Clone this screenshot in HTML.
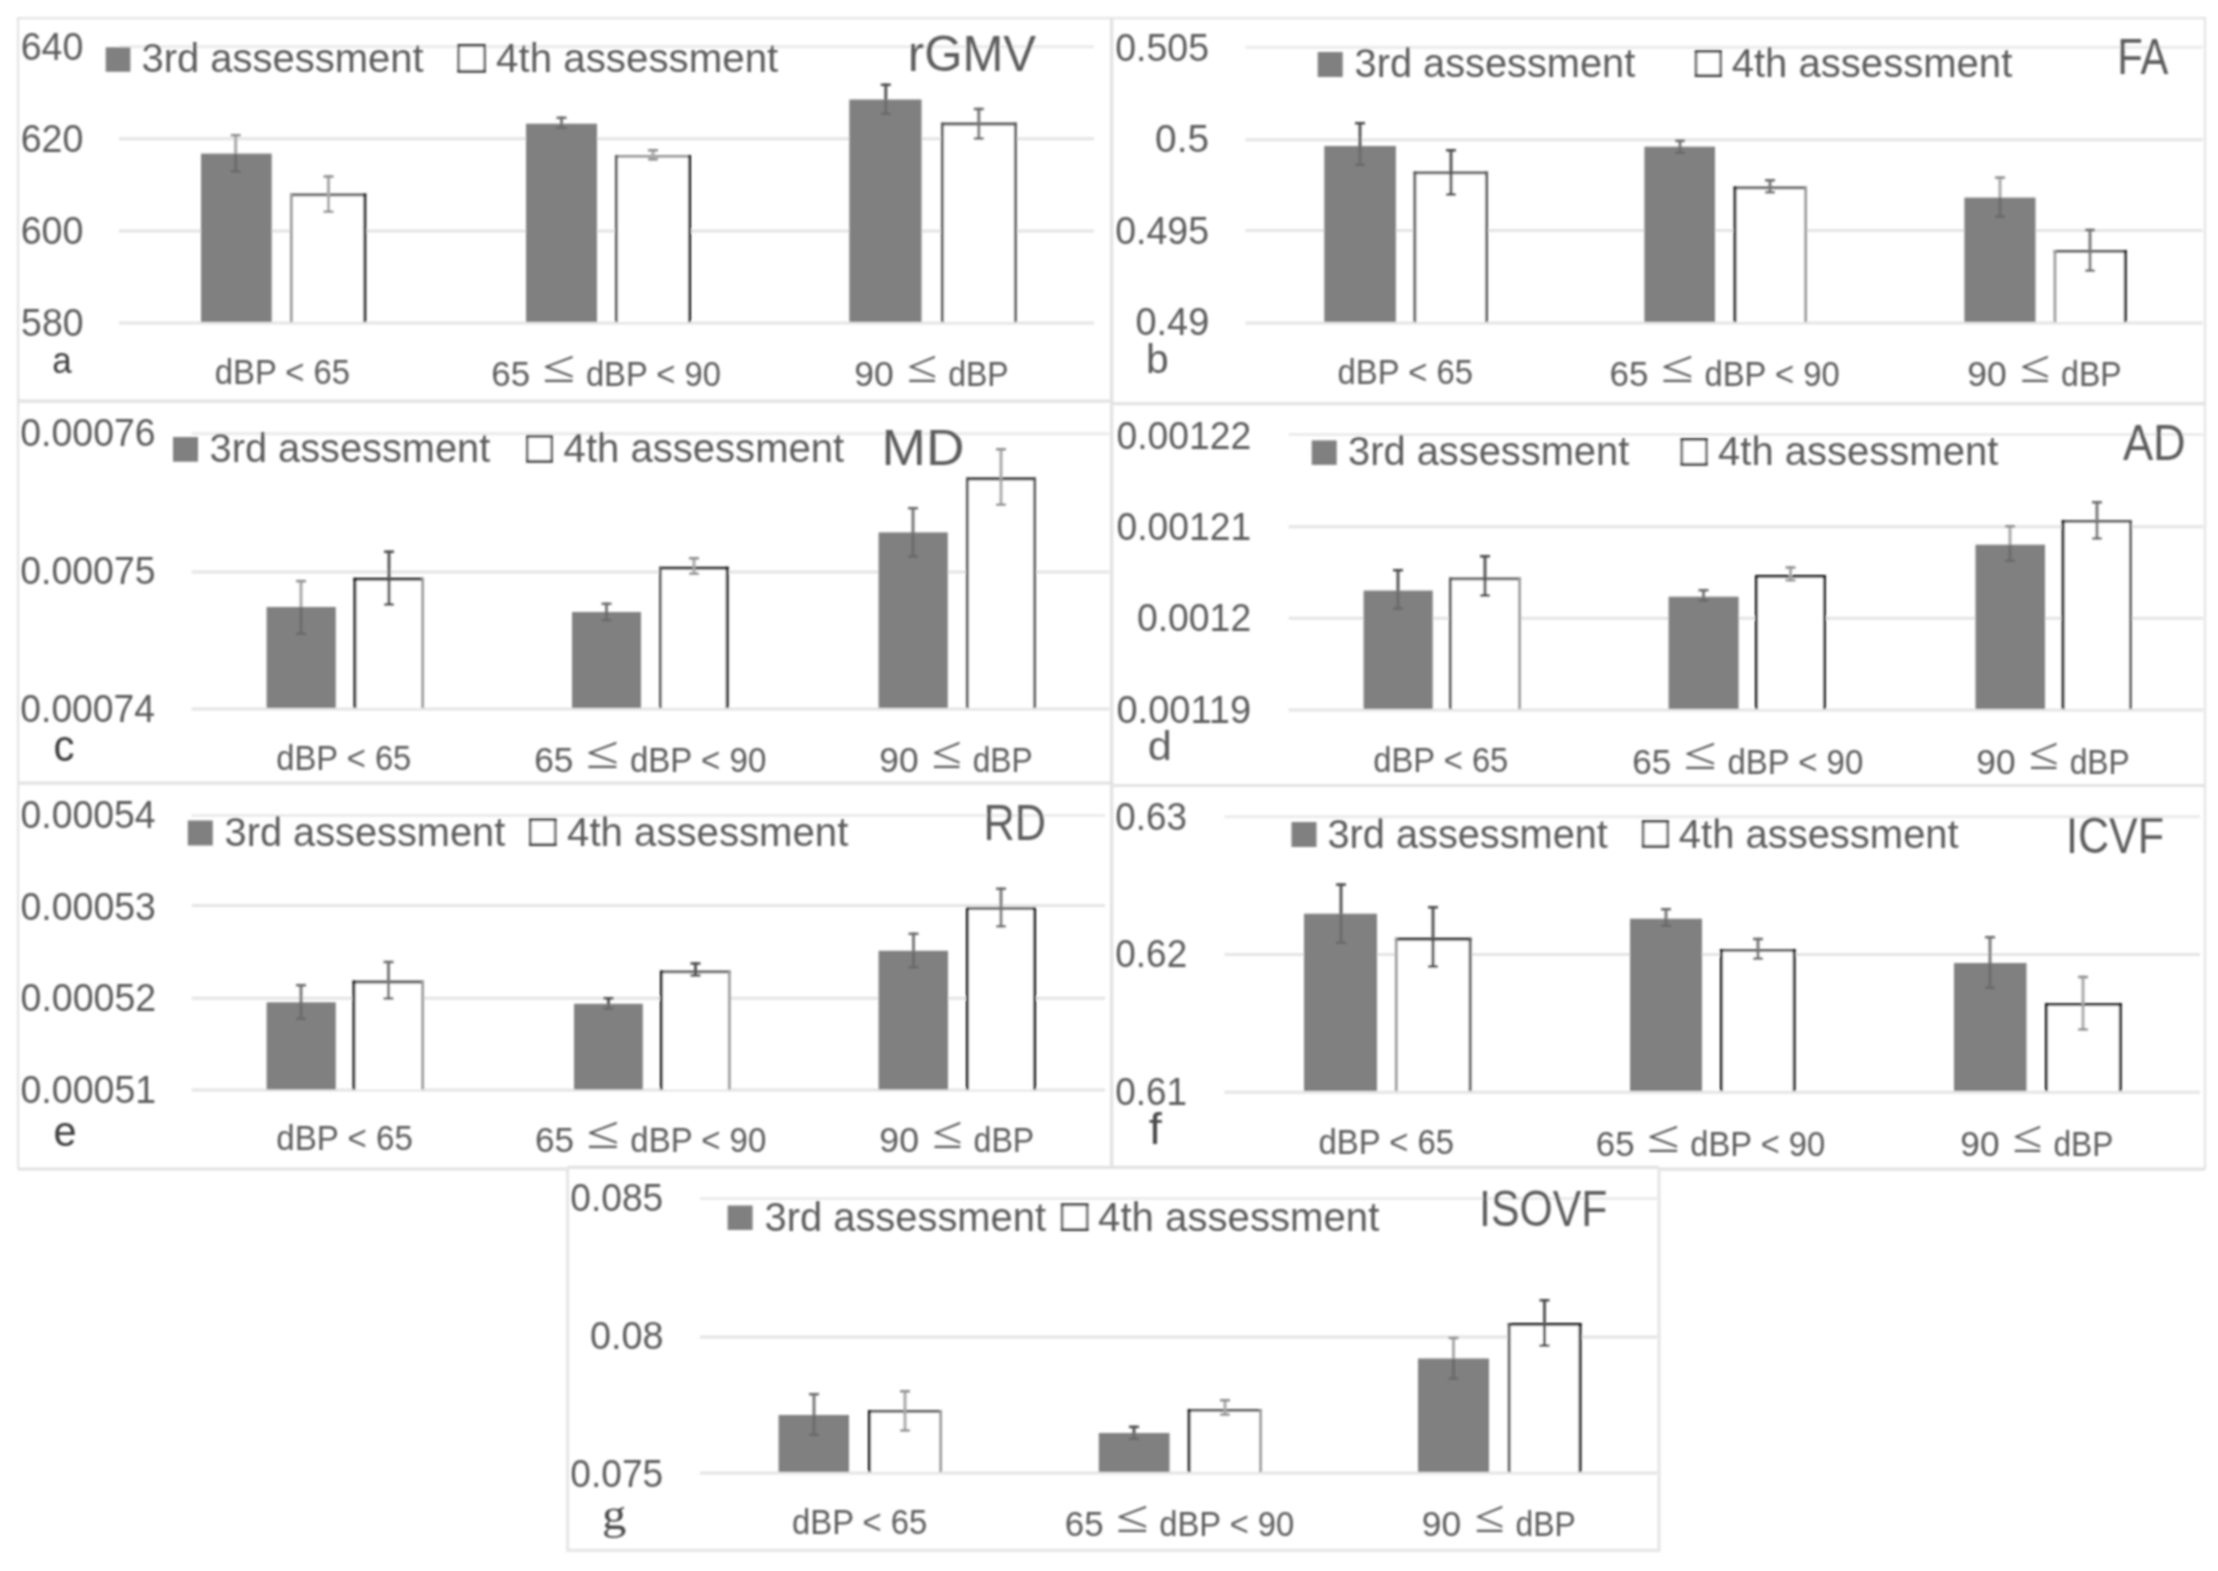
<!DOCTYPE html>
<html lang="en"><head><meta charset="utf-8"><title>Figure</title>
<style>html,body{margin:0;padding:0;background:#fff;overflow:hidden}svg{display:block}text{font-family:"Liberation Sans",sans-serif;white-space:pre}text.sf{font-family:"Liberation Serif",serif}</style>
</head><body>
<svg width="2218" height="1571" viewBox="0 0 2218 1571">
<rect width="2218" height="1571" fill="#fff"/>
<defs><filter id="bl" x="-1%" y="-1%" width="102%" height="102%"><feGaussianBlur stdDeviation="0.8"/></filter></defs><g filter="url(#bl)">
<g fill="none" stroke="#e2e2e2" stroke-width="3.2">
<path d="M18.1 1169V18.1H2205V1169" stroke-width="2.3" stroke="#e4e4e4"/>
<path d="M1111.7 18V1167"/>
<path d="M18 401.1H1111.6M18 783.2H1111.6M18 1169H567.6"/>
<path d="M1111.6 403.6H2205M1111.6 785.5H2205M1659 1169.2H2205"/>
<path d="M567.6 1167.3H1659"/>
<path d="M567.6 1167.3V1550.4H1659V1167.3" stroke="#e6e6e6"/>
</g>
<g>
<path d="M119 46.8H1094" stroke="#ebebeb" stroke-width="3" fill="none"/>
<path d="M119 138.7H1094M119 231H1094M119 323H1094" stroke="#e4e4e4" stroke-width="3" fill="none"/>
<text transform="translate(20.72 60) scale(0.9893 1)" font-size="38" fill="#5c5c5c">640</text>
<text transform="translate(20.72 152) scale(0.9893 1)" font-size="38" fill="#5c5c5c">620</text>
<text transform="translate(20.72 244.4) scale(0.9893 1)" font-size="38" fill="#5c5c5c">600</text>
<text transform="translate(21.11 336.4) scale(0.9831 1)" font-size="38" fill="#5c5c5c">580</text>
<rect x="201" y="153.6" width="70.7" height="168.4" fill="#808080"/>
<rect x="290" y="193.5" width="76.3" height="128.5" fill="#fff"/>
<path d="M290 194.9H366.3" stroke="#585858" stroke-width="2.8" fill="none"/>
<path d="M291.4 322V193.5" stroke="#9a9a9a" stroke-width="2.8" fill="none"/>
<path d="M364.9 322V193.5" stroke="#0c0c0c" stroke-width="2.8" fill="none"/>
<rect x="526" y="123.7" width="71" height="198.3" fill="#808080"/>
<rect x="615" y="155" width="76" height="167" fill="#fff"/>
<path d="M615 156.4H691" stroke="#9a9a9a" stroke-width="2.8" fill="none"/>
<path d="M616.4 322V155" stroke="#585858" stroke-width="2.8" fill="none"/>
<path d="M689.6 322V155" stroke="#0c0c0c" stroke-width="2.8" fill="none"/>
<rect x="849.3" y="99.5" width="72.2" height="222.5" fill="#808080"/>
<rect x="941" y="122.6" width="75.8" height="199.4" fill="#fff"/>
<path d="M941 124H1016.8" stroke="#585858" stroke-width="2.8" fill="none"/>
<path d="M942.4 322V122.6" stroke="#585858" stroke-width="2.8" fill="none"/>
<path d="M1015.4 322V122.6" stroke="#585858" stroke-width="2.8" fill="none"/>
<path d="M235.7 134V153.6" stroke="#a8a8a8" stroke-width="3" fill="none"/>
<path d="M235.7 153.6V172.5" stroke="#6c6c6c" stroke-width="3" fill="none"/>
<path d="M230.7 135.2H240.7" stroke="#8e8e8e" stroke-width="2.5" fill="none"/>
<path d="M230.7 171.3H240.7" stroke="#6a6a6a" stroke-width="2.5" fill="none"/>
<path d="M328.5 175.3V213" stroke="#a8a8a8" stroke-width="3" fill="none"/>
<path d="M323.5 176.5H333.5M323.5 211.8H333.5" stroke="#8e8e8e" stroke-width="2.5" fill="none"/>
<path d="M561.5 116.6V123.7" stroke="#7a7a7a" stroke-width="3" fill="none"/>
<path d="M561.5 123.7V129" stroke="#6c6c6c" stroke-width="3" fill="none"/>
<path d="M556.5 117.8H566.5" stroke="#6a6a6a" stroke-width="2.5" fill="none"/>
<path d="M556.5 127.8H566.5" stroke="#6a6a6a" stroke-width="2.5" fill="none"/>
<path d="M653 149V160.6" stroke="#a8a8a8" stroke-width="3" fill="none"/>
<path d="M648 150.2H658M648 159.4H658" stroke="#8e8e8e" stroke-width="2.5" fill="none"/>
<path d="M885.8 83.6V99.5" stroke="#565656" stroke-width="3" fill="none"/>
<path d="M885.8 99.5V115" stroke="#6c6c6c" stroke-width="3" fill="none"/>
<path d="M880.8 84.8H890.8" stroke="#4a4a4a" stroke-width="2.5" fill="none"/>
<path d="M880.8 113.8H890.8" stroke="#6a6a6a" stroke-width="2.5" fill="none"/>
<path d="M978.8 107.7V139.8" stroke="#7a7a7a" stroke-width="3" fill="none"/>
<path d="M973.8 108.9H983.8M973.8 138.6H983.8" stroke="#6a6a6a" stroke-width="2.5" fill="none"/>
<rect x="105.7" y="47.3" width="24.7" height="24.5" fill="#808080"/>
<text transform="translate(141.5 71.8) scale(0.9632 1)" font-size="41.5" fill="#5c5c5c">3rd assessment</text>
<rect x="458.7" y="45.3" width="26" height="25.9" fill="#fff" stroke="#686868" stroke-width="2.6"/>
<path d="M457.4 45.3H486M457.4 71.2H486" stroke="#3c3c3c" stroke-width="2.6" fill="none"/>
<text transform="translate(496.09 71.8) scale(0.9711 1)" font-size="41.5" fill="#5c5c5c">4th assessment</text>
<text transform="translate(907.8 71) scale(0.9833 1)" font-size="50" fill="#5c5c5c">rGMV</text>
<text transform="translate(214.81 384) scale(0.9378 1)" font-size="35" fill="#5c5c5c">dBP &lt; 65</text>
<text transform="translate(491.25 386) scale(0.9972 1)" font-size="35" fill="#5c5c5c">65</text>
<text class="sf" transform="translate(542.48 381.8) scale(1.4839 1.1441)" font-size="40" fill="#555">≤</text>
<text transform="translate(585.91 386) scale(0.9351 1)" font-size="35" fill="#5c5c5c">dBP &lt; 90</text>
<text transform="translate(854.31 386) scale(1.0146 1)" font-size="35" fill="#5c5c5c">90</text>
<text class="sf" transform="translate(907.06 381.8) scale(1.3763 1.1441)" font-size="40" fill="#555">≤</text>
<text transform="translate(948.24 386) scale(0.9136 1)" font-size="35" fill="#5c5c5c">dBP</text>
<text transform="translate(52.21 373.22) scale(0.8738 0.9406)" font-size="40" fill="#3c3c3c">a</text>
</g>
<g>
<path d="M1245.5 47.3H2202.5" stroke="#ebebeb" stroke-width="3" fill="none"/>
<path d="M1245.5 139.7H2202.5M1245.5 230.5H2202.5M1245.5 322.9H2202.5" stroke="#e4e4e4" stroke-width="3" fill="none"/>
<text transform="translate(1115.2 60.7) scale(0.9864 1)" font-size="38" fill="#5c5c5c">0.505</text>
<text transform="translate(1155.05 152.1) scale(1.0225 1)" font-size="38" fill="#5c5c5c">0.5</text>
<text transform="translate(1115.2 243.7) scale(0.9864 1)" font-size="38" fill="#5c5c5c">0.495</text>
<text transform="translate(1135.48 335.4) scale(0.9975 1)" font-size="38" fill="#5c5c5c">0.49</text>
<rect x="1324.3" y="146" width="71.6" height="176" fill="#808080"/>
<rect x="1413.5" y="171.4" width="74.5" height="150.6" fill="#fff"/>
<path d="M1413.5 172.8H1488" stroke="#585858" stroke-width="2.8" fill="none"/>
<path d="M1414.9 322V171.4" stroke="#585858" stroke-width="2.8" fill="none"/>
<path d="M1486.6 322V171.4" stroke="#585858" stroke-width="2.8" fill="none"/>
<rect x="1644.4" y="146.7" width="70.6" height="175.3" fill="#808080"/>
<rect x="1733.6" y="186.5" width="73.4" height="135.5" fill="#fff"/>
<path d="M1733.6 187.9H1807" stroke="#585858" stroke-width="2.8" fill="none"/>
<path d="M1735 322V186.5" stroke="#0c0c0c" stroke-width="2.8" fill="none"/>
<path d="M1805.6 322V186.5" stroke="#9a9a9a" stroke-width="2.8" fill="none"/>
<rect x="1964.4" y="197.6" width="71.1" height="124.4" fill="#808080"/>
<rect x="2053.6" y="250" width="73.1" height="72" fill="#fff"/>
<path d="M2053.6 251.4H2126.7" stroke="#585858" stroke-width="2.8" fill="none"/>
<path d="M2055 322V250" stroke="#9a9a9a" stroke-width="2.8" fill="none"/>
<path d="M2125.3 322V250" stroke="#0c0c0c" stroke-width="2.8" fill="none"/>
<path d="M1360 122V146" stroke="#565656" stroke-width="3" fill="none"/>
<path d="M1360 146V166" stroke="#6c6c6c" stroke-width="3" fill="none"/>
<path d="M1355 123.2H1365" stroke="#4a4a4a" stroke-width="2.5" fill="none"/>
<path d="M1355 164.8H1365" stroke="#6a6a6a" stroke-width="2.5" fill="none"/>
<path d="M1451 149V195.6" stroke="#565656" stroke-width="3" fill="none"/>
<path d="M1446 150.2H1456M1446 194.4H1456" stroke="#4a4a4a" stroke-width="2.5" fill="none"/>
<path d="M1680 139.6V146.7" stroke="#7a7a7a" stroke-width="3" fill="none"/>
<path d="M1680 146.7V154" stroke="#6c6c6c" stroke-width="3" fill="none"/>
<path d="M1675 140.8H1685" stroke="#6a6a6a" stroke-width="2.5" fill="none"/>
<path d="M1675 152.8H1685" stroke="#6a6a6a" stroke-width="2.5" fill="none"/>
<path d="M1770 179V193.5" stroke="#7a7a7a" stroke-width="3" fill="none"/>
<path d="M1765 180.2H1775M1765 192.3H1775" stroke="#6a6a6a" stroke-width="2.5" fill="none"/>
<path d="M2000 176.4V197.6" stroke="#a8a8a8" stroke-width="3" fill="none"/>
<path d="M2000 197.6V217.7" stroke="#6c6c6c" stroke-width="3" fill="none"/>
<path d="M1995 177.6H2005" stroke="#8e8e8e" stroke-width="2.5" fill="none"/>
<path d="M1995 216.5H2005" stroke="#6a6a6a" stroke-width="2.5" fill="none"/>
<path d="M2090 228.8V272" stroke="#7a7a7a" stroke-width="3" fill="none"/>
<path d="M2085 230H2095M2085 270.8H2095" stroke="#6a6a6a" stroke-width="2.5" fill="none"/>
<rect x="1317.7" y="52" width="25" height="25" fill="#808080"/>
<text transform="translate(1354.51 77) scale(0.9587 1)" font-size="41.5" fill="#5c5c5c">3rd assessment</text>
<rect x="1696.1" y="51.3" width="24.4" height="24.4" fill="#fff" stroke="#686868" stroke-width="2.6"/>
<path d="M1694.8 51.3H1721.8M1694.8 75.7H1721.8" stroke="#3c3c3c" stroke-width="2.6" fill="none"/>
<text transform="translate(1731.7 77) scale(0.9656 1)" font-size="41.5" fill="#5c5c5c">4th assessment</text>
<text transform="translate(2117.25 74.4) scale(0.8369 1)" font-size="50" fill="#5c5c5c">FA</text>
<text transform="translate(1337.61 384.2) scale(0.9378 1)" font-size="35" fill="#5c5c5c">dBP &lt; 65</text>
<text transform="translate(1609.55 386.2) scale(0.9994 1)" font-size="35" fill="#5c5c5c">65</text>
<text class="sf" transform="translate(1660.89 382) scale(1.4871 1.1441)" font-size="40" fill="#555">≤</text>
<text transform="translate(1704.41 386.2) scale(0.9371 1)" font-size="35" fill="#5c5c5c">dBP &lt; 90</text>
<text transform="translate(1967.32 386.2) scale(1.0133 1)" font-size="35" fill="#5c5c5c">90</text>
<text class="sf" transform="translate(2019.99 382) scale(1.3745 1.1441)" font-size="40" fill="#555">≤</text>
<text transform="translate(2061.12 386.2) scale(0.9124 1)" font-size="35" fill="#5c5c5c">dBP</text>
<text transform="translate(1146.04 372.89) scale(1.0222 1.0306)" font-size="40" fill="#5a5a5a">b</text>
</g>
<g>
<path d="M191.7 433.8H1109.5" stroke="#ebebeb" stroke-width="3" fill="none"/>
<path d="M191.7 572H1109.5M191.7 709H1109.5" stroke="#e4e4e4" stroke-width="3" fill="none"/>
<text transform="translate(20.3 446.3) scale(0.9855 1)" font-size="38" fill="#5c5c5c">0.00076</text>
<text transform="translate(20.3 584.1) scale(0.9848 1)" font-size="38" fill="#5c5c5c">0.00075</text>
<text transform="translate(20.31 722) scale(0.9814 1)" font-size="38" fill="#5c5c5c">0.00074</text>
<rect x="266.6" y="607" width="69.2" height="101" fill="#808080"/>
<rect x="353.5" y="577.8" width="70.5" height="130.2" fill="#fff"/>
<path d="M353.5 579.2H424" stroke="#0c0c0c" stroke-width="2.8" fill="none"/>
<path d="M354.9 708V577.8" stroke="#0c0c0c" stroke-width="2.8" fill="none"/>
<path d="M422.6 708V577.8" stroke="#9a9a9a" stroke-width="2.8" fill="none"/>
<rect x="572" y="612" width="69" height="96" fill="#808080"/>
<rect x="659" y="566.7" width="69.6" height="141.3" fill="#fff"/>
<path d="M659 568.1H728.6" stroke="#0c0c0c" stroke-width="2.8" fill="none"/>
<path d="M660.4 708V566.7" stroke="#585858" stroke-width="2.8" fill="none"/>
<path d="M727.2 708V566.7" stroke="#0c0c0c" stroke-width="2.8" fill="none"/>
<rect x="878.6" y="532.4" width="69.2" height="175.6" fill="#808080"/>
<rect x="966" y="477.4" width="70" height="230.6" fill="#fff"/>
<path d="M966 478.8H1036" stroke="#0c0c0c" stroke-width="2.8" fill="none"/>
<path d="M967.4 708V477.4" stroke="#585858" stroke-width="2.8" fill="none"/>
<path d="M1034.6 708V477.4" stroke="#585858" stroke-width="2.8" fill="none"/>
<path d="M301 579.9V607" stroke="#a8a8a8" stroke-width="3" fill="none"/>
<path d="M301 607V634.9" stroke="#6c6c6c" stroke-width="3" fill="none"/>
<path d="M296 581.1H306" stroke="#8e8e8e" stroke-width="2.5" fill="none"/>
<path d="M296 633.7H306" stroke="#6a6a6a" stroke-width="2.5" fill="none"/>
<path d="M389 550.6V605.6" stroke="#565656" stroke-width="3" fill="none"/>
<path d="M384 551.8H394M384 604.4H394" stroke="#4a4a4a" stroke-width="2.5" fill="none"/>
<path d="M606.5 602.6V612" stroke="#7a7a7a" stroke-width="3" fill="none"/>
<path d="M606.5 612V621.3" stroke="#6c6c6c" stroke-width="3" fill="none"/>
<path d="M601.5 603.8H611.5" stroke="#6a6a6a" stroke-width="2.5" fill="none"/>
<path d="M601.5 620.1H611.5" stroke="#6a6a6a" stroke-width="2.5" fill="none"/>
<path d="M694 557V575" stroke="#a8a8a8" stroke-width="3" fill="none"/>
<path d="M689 558.2H699M689 573.8H699" stroke="#8e8e8e" stroke-width="2.5" fill="none"/>
<path d="M913 507V532.4" stroke="#7a7a7a" stroke-width="3" fill="none"/>
<path d="M913 532.4V557.6" stroke="#6c6c6c" stroke-width="3" fill="none"/>
<path d="M908 508.2H918" stroke="#6a6a6a" stroke-width="2.5" fill="none"/>
<path d="M908 556.4H918" stroke="#6a6a6a" stroke-width="2.5" fill="none"/>
<path d="M1001 448V506" stroke="#a8a8a8" stroke-width="3" fill="none"/>
<path d="M996 449.2H1006M996 504.8H1006" stroke="#8e8e8e" stroke-width="2.5" fill="none"/>
<rect x="173" y="437" width="25" height="24.7" fill="#808080"/>
<text transform="translate(209.51 462) scale(0.9587 1)" font-size="41.5" fill="#5c5c5c">3rd assessment</text>
<rect x="527.3" y="436.3" width="24.4" height="24.9" fill="#fff" stroke="#686868" stroke-width="2.6"/>
<path d="M526 436.3H553M526 461.2H553" stroke="#3c3c3c" stroke-width="2.6" fill="none"/>
<text transform="translate(563.6 462) scale(0.9659 1)" font-size="41.5" fill="#5c5c5c">4th assessment</text>
<text transform="translate(881.6 464.7) scale(1.0667 1)" font-size="50" fill="#5c5c5c">MD</text>
<text transform="translate(276.31 769.7) scale(0.9356 1)" font-size="35" fill="#5c5c5c">dBP &lt; 65</text>
<text transform="translate(534.24 771.7) scale(1.0078 1)" font-size="35" fill="#5c5c5c">65</text>
<text class="sf" transform="translate(586 767.5) scale(1.4996 1.1441)" font-size="40" fill="#555">≤</text>
<text transform="translate(629.89 771.7) scale(0.9450 1)" font-size="35" fill="#5c5c5c">dBP &lt; 90</text>
<text transform="translate(879.32 771.7) scale(1.0079 1)" font-size="35" fill="#5c5c5c">90</text>
<text class="sf" transform="translate(931.72 767.5) scale(1.3672 1.1441)" font-size="40" fill="#555">≤</text>
<text transform="translate(972.63 771.7) scale(0.9076 1)" font-size="35" fill="#5c5c5c">dBP</text>
<text transform="translate(53.41 760.67) scale(1.0523 1.0868)" font-size="40" fill="#3c3c3c">c</text>
</g>
<g>
<path d="M1288.6 434.6H2203" stroke="#ebebeb" stroke-width="3" fill="none"/>
<path d="M1288.6 526.8H2203M1288.6 618.2H2203M1288.6 710H2203" stroke="#e4e4e4" stroke-width="3" fill="none"/>
<text transform="translate(1116.51 448.5) scale(0.9809 1)" font-size="38" fill="#5c5c5c">0.00122</text>
<text transform="translate(1116.51 539.8) scale(0.9802 1)" font-size="38" fill="#5c5c5c">0.00121</text>
<text transform="translate(1136.91 631.2) scale(0.9835 1)" font-size="38" fill="#5c5c5c">0.0012</text>
<text transform="translate(1116.48 723) scale(1.0001 1)" font-size="38" fill="#5c5c5c">0.00119</text>
<rect x="1363.6" y="590.6" width="69.1" height="118.4" fill="#808080"/>
<rect x="1449" y="577.5" width="71.9" height="131.5" fill="#fff"/>
<path d="M1449 578.9H1520.9" stroke="#585858" stroke-width="2.8" fill="none"/>
<path d="M1450.4 709V577.5" stroke="#585858" stroke-width="2.8" fill="none"/>
<path d="M1519.5 709V577.5" stroke="#9a9a9a" stroke-width="2.8" fill="none"/>
<rect x="1668.6" y="596.7" width="70" height="112.3" fill="#808080"/>
<rect x="1755" y="575" width="70.8" height="134" fill="#fff"/>
<path d="M1755 576.4H1825.8" stroke="#0c0c0c" stroke-width="2.8" fill="none"/>
<path d="M1756.4 709V575" stroke="#0c0c0c" stroke-width="2.8" fill="none"/>
<path d="M1824.4 709V575" stroke="#0c0c0c" stroke-width="2.8" fill="none"/>
<rect x="1975.5" y="544.7" width="69.5" height="164.3" fill="#808080"/>
<rect x="2061.7" y="520" width="70.1" height="189" fill="#fff"/>
<path d="M2061.7 521.4H2131.8" stroke="#585858" stroke-width="2.8" fill="none"/>
<path d="M2063.1 709V520" stroke="#0c0c0c" stroke-width="2.8" fill="none"/>
<path d="M2130.4 709V520" stroke="#585858" stroke-width="2.8" fill="none"/>
<path d="M1398 569V590.6" stroke="#565656" stroke-width="3" fill="none"/>
<path d="M1398 590.6V609.8" stroke="#6c6c6c" stroke-width="3" fill="none"/>
<path d="M1393 570.2H1403" stroke="#4a4a4a" stroke-width="2.5" fill="none"/>
<path d="M1393 608.6H1403" stroke="#6a6a6a" stroke-width="2.5" fill="none"/>
<path d="M1485 555V596.7" stroke="#565656" stroke-width="3" fill="none"/>
<path d="M1480 556.2H1490M1480 595.5H1490" stroke="#4a4a4a" stroke-width="2.5" fill="none"/>
<path d="M1703.5 589V596.7" stroke="#7a7a7a" stroke-width="3" fill="none"/>
<path d="M1703.5 596.7V601.7" stroke="#6c6c6c" stroke-width="3" fill="none"/>
<path d="M1698.5 590.2H1708.5" stroke="#6a6a6a" stroke-width="2.5" fill="none"/>
<path d="M1698.5 600.5H1708.5" stroke="#6a6a6a" stroke-width="2.5" fill="none"/>
<path d="M1790.5 566.4V581.5" stroke="#a8a8a8" stroke-width="3" fill="none"/>
<path d="M1785.5 567.6H1795.5M1785.5 580.3H1795.5" stroke="#8e8e8e" stroke-width="2.5" fill="none"/>
<path d="M2010 525V544.7" stroke="#a8a8a8" stroke-width="3" fill="none"/>
<path d="M2010 544.7V562" stroke="#6c6c6c" stroke-width="3" fill="none"/>
<path d="M2005 526.2H2015" stroke="#8e8e8e" stroke-width="2.5" fill="none"/>
<path d="M2005 560.8H2015" stroke="#6a6a6a" stroke-width="2.5" fill="none"/>
<path d="M2097 501V539.7" stroke="#7a7a7a" stroke-width="3" fill="none"/>
<path d="M2092 502.2H2102M2092 538.5H2102" stroke="#6a6a6a" stroke-width="2.5" fill="none"/>
<rect x="1311.7" y="440.4" width="25" height="24.5" fill="#808080"/>
<text transform="translate(1348.01 465) scale(0.9604 1)" font-size="41.5" fill="#5c5c5c">3rd assessment</text>
<rect x="1681.9" y="439.3" width="24.4" height="24.9" fill="#fff" stroke="#686868" stroke-width="2.6"/>
<path d="M1680.6 439.3H1707.6M1680.6 464.2H1707.6" stroke="#3c3c3c" stroke-width="2.6" fill="none"/>
<text transform="translate(1718.1 465) scale(0.9642 1)" font-size="41.5" fill="#5c5c5c">4th assessment</text>
<text transform="translate(2122.89 459.6) scale(0.9060 1)" font-size="50" fill="#5c5c5c">AD</text>
<text transform="translate(1373.31 771.6) scale(0.9356 1)" font-size="35" fill="#5c5c5c">dBP &lt; 65</text>
<text transform="translate(1632.24 773.6) scale(1.0034 1)" font-size="35" fill="#5c5c5c">65</text>
<text class="sf" transform="translate(1683.78 769.4) scale(1.4930 1.1441)" font-size="40" fill="#555">≤</text>
<text transform="translate(1727.48 773.6) scale(0.9408 1)" font-size="35" fill="#5c5c5c">dBP &lt; 90</text>
<text transform="translate(1976.32 773.6) scale(1.0079 1)" font-size="35" fill="#5c5c5c">90</text>
<text class="sf" transform="translate(2028.72 769.4) scale(1.3672 1.1441)" font-size="40" fill="#555">≤</text>
<text transform="translate(2069.63 773.6) scale(0.9076 1)" font-size="35" fill="#5c5c5c">dBP</text>
<text transform="translate(1147.66 760.19) scale(1.0833 1.0306)" font-size="40" fill="#5e5e5e">d</text>
</g>
<g>
<path d="M191.7 815.5H1105" stroke="#ebebeb" stroke-width="3" fill="none"/>
<path d="M191.7 905.6H1105M191.7 998.2H1105M191.7 1090H1105" stroke="#e4e4e4" stroke-width="3" fill="none"/>
<text transform="translate(20.51 828.1) scale(0.9821 1)" font-size="38" fill="#5c5c5c">0.00054</text>
<text transform="translate(20.5 919.7) scale(0.9863 1)" font-size="38" fill="#5c5c5c">0.00053</text>
<text transform="translate(20.5 1011.4) scale(0.9884 1)" font-size="38" fill="#5c5c5c">0.00052</text>
<text transform="translate(20.5 1102.7) scale(0.9877 1)" font-size="38" fill="#5c5c5c">0.00051</text>
<rect x="266.6" y="1002.3" width="69.2" height="87.2" fill="#808080"/>
<rect x="352.5" y="980.6" width="71.5" height="108.9" fill="#fff"/>
<path d="M352.5 982H424" stroke="#585858" stroke-width="2.8" fill="none"/>
<path d="M353.9 1089.5V980.6" stroke="#0c0c0c" stroke-width="2.8" fill="none"/>
<path d="M422.6 1089.5V980.6" stroke="#9a9a9a" stroke-width="2.8" fill="none"/>
<rect x="574" y="1003.8" width="68.8" height="85.7" fill="#808080"/>
<rect x="660" y="970.5" width="70.7" height="119" fill="#fff"/>
<path d="M660 971.9H730.7" stroke="#585858" stroke-width="2.8" fill="none"/>
<path d="M661.4 1089.5V970.5" stroke="#0c0c0c" stroke-width="2.8" fill="none"/>
<path d="M729.3 1089.5V970.5" stroke="#9a9a9a" stroke-width="2.8" fill="none"/>
<rect x="878.6" y="950.8" width="69.4" height="138.7" fill="#808080"/>
<rect x="966" y="907.3" width="70" height="182.2" fill="#fff"/>
<path d="M966 908.7H1036" stroke="#585858" stroke-width="2.8" fill="none"/>
<path d="M967.4 1089.5V907.3" stroke="#0c0c0c" stroke-width="2.8" fill="none"/>
<path d="M1034.6 1089.5V907.3" stroke="#0c0c0c" stroke-width="2.8" fill="none"/>
<path d="M301 984V1002.3" stroke="#7a7a7a" stroke-width="3" fill="none"/>
<path d="M301 1002.3V1020" stroke="#6c6c6c" stroke-width="3" fill="none"/>
<path d="M296 985.2H306" stroke="#6a6a6a" stroke-width="2.5" fill="none"/>
<path d="M296 1018.8H306" stroke="#6a6a6a" stroke-width="2.5" fill="none"/>
<path d="M388.5 960.9V999.7" stroke="#7a7a7a" stroke-width="3" fill="none"/>
<path d="M383.5 962.1H393.5M383.5 998.5H393.5" stroke="#6a6a6a" stroke-width="2.5" fill="none"/>
<path d="M608.5 997V1003.8" stroke="#565656" stroke-width="3" fill="none"/>
<path d="M608.5 1003.8V1009.8" stroke="#6c6c6c" stroke-width="3" fill="none"/>
<path d="M603.5 998.2H613.5" stroke="#4a4a4a" stroke-width="2.5" fill="none"/>
<path d="M603.5 1008.6H613.5" stroke="#6a6a6a" stroke-width="2.5" fill="none"/>
<path d="M695.5 962.4V977" stroke="#565656" stroke-width="3" fill="none"/>
<path d="M690.5 963.6H700.5M690.5 975.8H700.5" stroke="#4a4a4a" stroke-width="2.5" fill="none"/>
<path d="M913.5 932.6V950.8" stroke="#7a7a7a" stroke-width="3" fill="none"/>
<path d="M913.5 950.8V968.4" stroke="#6c6c6c" stroke-width="3" fill="none"/>
<path d="M908.5 933.8H918.5" stroke="#6a6a6a" stroke-width="2.5" fill="none"/>
<path d="M908.5 967.2H918.5" stroke="#6a6a6a" stroke-width="2.5" fill="none"/>
<path d="M1001 887.6V927.5" stroke="#7a7a7a" stroke-width="3" fill="none"/>
<path d="M996 888.8H1006M996 926.3H1006" stroke="#6a6a6a" stroke-width="2.5" fill="none"/>
<rect x="187.8" y="820.5" width="25" height="25" fill="#808080"/>
<text transform="translate(224.51 846) scale(0.9587 1)" font-size="41.5" fill="#5c5c5c">3rd assessment</text>
<rect x="530.3" y="819.8" width="24.9" height="24.9" fill="#fff" stroke="#686868" stroke-width="2.6"/>
<path d="M529 819.8H556.5M529 844.7H556.5" stroke="#3c3c3c" stroke-width="2.6" fill="none"/>
<text transform="translate(567.1 846) scale(0.9677 1)" font-size="41.5" fill="#5c5c5c">4th assessment</text>
<text transform="translate(983.42 839.7) scale(0.8669 1)" font-size="50" fill="#5c5c5c">RD</text>
<text transform="translate(276.29 1149.7) scale(0.9463 1)" font-size="35" fill="#5c5c5c">dBP &lt; 65</text>
<text transform="translate(534.94 1151.7) scale(1.0047 1)" font-size="35" fill="#5c5c5c">65</text>
<text class="sf" transform="translate(586.55 1147.5) scale(1.4950 1.1441)" font-size="40" fill="#555">≤</text>
<text transform="translate(630.31 1151.7) scale(0.9421 1)" font-size="35" fill="#5c5c5c">dBP &lt; 90</text>
<text transform="translate(879.31 1151.7) scale(1.0187 1)" font-size="35" fill="#5c5c5c">90</text>
<text class="sf" transform="translate(932.26 1147.5) scale(1.3818 1.1441)" font-size="40" fill="#555">≤</text>
<text transform="translate(973.61 1151.7) scale(0.9173 1)" font-size="35" fill="#5c5c5c">dBP</text>
<text transform="translate(53.44 1146.07) scale(1.0372 1.0731)" font-size="40" fill="#3c3c3c">e</text>
</g>
<g>
<path d="M1224.5 816.8H2200" stroke="#ebebeb" stroke-width="3" fill="none"/>
<path d="M1224.5 954.5H2200M1224.5 1092.3H2200" stroke="#e4e4e4" stroke-width="3" fill="none"/>
<text transform="translate(1115.33 830.2) scale(0.9679 1)" font-size="38" fill="#5c5c5c">0.63</text>
<text transform="translate(1115.32 967.3) scale(0.9718 1)" font-size="38" fill="#5c5c5c">0.62</text>
<text transform="translate(1115.32 1105.2) scale(0.9705 1)" font-size="38" fill="#5c5c5c">0.61</text>
<rect x="1304" y="913.7" width="73" height="177.3" fill="#808080"/>
<rect x="1394.9" y="937.8" width="76.6" height="153.2" fill="#fff"/>
<path d="M1394.9 939.2H1471.5" stroke="#0c0c0c" stroke-width="2.8" fill="none"/>
<path d="M1396.3 1091V937.8" stroke="#9a9a9a" stroke-width="2.8" fill="none"/>
<path d="M1470.1 1091V937.8" stroke="#585858" stroke-width="2.8" fill="none"/>
<rect x="1630" y="918.7" width="72" height="172.3" fill="#808080"/>
<rect x="1720" y="948.9" width="75.6" height="142.1" fill="#fff"/>
<path d="M1720 950.3H1795.6" stroke="#585858" stroke-width="2.8" fill="none"/>
<path d="M1721.4 1091V948.9" stroke="#0c0c0c" stroke-width="2.8" fill="none"/>
<path d="M1794.2 1091V948.9" stroke="#0c0c0c" stroke-width="2.8" fill="none"/>
<rect x="1954" y="963" width="72.5" height="128" fill="#808080"/>
<rect x="2045" y="1002.9" width="76.7" height="88.1" fill="#fff"/>
<path d="M2045 1004.3H2121.7" stroke="#0c0c0c" stroke-width="2.8" fill="none"/>
<path d="M2046.4 1091V1002.9" stroke="#0c0c0c" stroke-width="2.8" fill="none"/>
<path d="M2120.3 1091V1002.9" stroke="#0c0c0c" stroke-width="2.8" fill="none"/>
<path d="M1341 883.4V913.7" stroke="#565656" stroke-width="3" fill="none"/>
<path d="M1341 913.7V943.9" stroke="#6c6c6c" stroke-width="3" fill="none"/>
<path d="M1336 884.6H1346" stroke="#4a4a4a" stroke-width="2.5" fill="none"/>
<path d="M1336 942.7H1346" stroke="#6a6a6a" stroke-width="2.5" fill="none"/>
<path d="M1433 906V967.6" stroke="#565656" stroke-width="3" fill="none"/>
<path d="M1428 907.2H1438M1428 966.4H1438" stroke="#4a4a4a" stroke-width="2.5" fill="none"/>
<path d="M1666 908V918.7" stroke="#7a7a7a" stroke-width="3" fill="none"/>
<path d="M1666 918.7V927" stroke="#6c6c6c" stroke-width="3" fill="none"/>
<path d="M1661 909.2H1671" stroke="#6a6a6a" stroke-width="2.5" fill="none"/>
<path d="M1661 925.8H1671" stroke="#6a6a6a" stroke-width="2.5" fill="none"/>
<path d="M1758 937.8V960" stroke="#7a7a7a" stroke-width="3" fill="none"/>
<path d="M1753 939H1763M1753 958.8H1763" stroke="#6a6a6a" stroke-width="2.5" fill="none"/>
<path d="M1990 936V963" stroke="#7a7a7a" stroke-width="3" fill="none"/>
<path d="M1990 963V989" stroke="#6c6c6c" stroke-width="3" fill="none"/>
<path d="M1985 937.2H1995" stroke="#6a6a6a" stroke-width="2.5" fill="none"/>
<path d="M1985 987.8H1995" stroke="#6a6a6a" stroke-width="2.5" fill="none"/>
<path d="M2083 975.7V1030.6" stroke="#a8a8a8" stroke-width="3" fill="none"/>
<path d="M2078 976.9H2088M2078 1029.4H2088" stroke="#8e8e8e" stroke-width="2.5" fill="none"/>
<rect x="1291.5" y="822" width="25" height="25" fill="#808080"/>
<text transform="translate(1327.51 847.5) scale(0.9573 1)" font-size="41.5" fill="#5c5c5c">3rd assessment</text>
<rect x="1643.2" y="821.3" width="24.4" height="24.9" fill="#fff" stroke="#686868" stroke-width="2.6"/>
<path d="M1641.9 821.3H1668.9M1641.9 846.2H1668.9" stroke="#3c3c3c" stroke-width="2.6" fill="none"/>
<text transform="translate(1678.8 847.5) scale(0.9632 1)" font-size="41.5" fill="#5c5c5c">4th assessment</text>
<text transform="translate(2066.01 853) scale(0.8625 1)" font-size="50" fill="#5c5c5c">ICVF</text>
<text transform="translate(1318.6 1153.7) scale(0.9392 1)" font-size="35" fill="#5c5c5c">dBP &lt; 65</text>
<text transform="translate(1595.76 1155.7) scale(0.9968 1)" font-size="35" fill="#5c5c5c">65</text>
<text class="sf" transform="translate(1646.96 1151.5) scale(1.4832 1.1441)" font-size="40" fill="#555">≤</text>
<text transform="translate(1690.37 1155.7) scale(0.9347 1)" font-size="35" fill="#5c5c5c">dBP &lt; 90</text>
<text transform="translate(1960.33 1155.7) scale(1.0052 1)" font-size="35" fill="#5c5c5c">90</text>
<text class="sf" transform="translate(2012.59 1151.5) scale(1.3636 1.1441)" font-size="40" fill="#555">≤</text>
<text transform="translate(2053.39 1155.7) scale(0.9052 1)" font-size="35" fill="#5c5c5c">dBP</text>
<text transform="translate(1148.79 1144.4) scale(1.1792 1.1038)" font-size="40" fill="#4a4a4a">f</text>
</g>
<g>
<path d="M699.8 1198.4H1657" stroke="#ebebeb" stroke-width="3" fill="none"/>
<path d="M699.8 1337H1657M699.8 1473H1657" stroke="#e4e4e4" stroke-width="3" fill="none"/>
<text transform="translate(570.31 1210.8) scale(0.9777 1)" font-size="38" fill="#5c5c5c">0.085</text>
<text transform="translate(589.99 1349) scale(0.9933 1)" font-size="38" fill="#5c5c5c">0.08</text>
<text transform="translate(570.31 1486.6) scale(0.9777 1)" font-size="38" fill="#5c5c5c">0.075</text>
<rect x="778.6" y="1415" width="70.4" height="57" fill="#808080"/>
<rect x="868" y="1410" width="74" height="62" fill="#fff"/>
<path d="M868 1411.4H942" stroke="#585858" stroke-width="2.8" fill="none"/>
<path d="M869.4 1472V1410" stroke="#0c0c0c" stroke-width="2.8" fill="none"/>
<path d="M940.6 1472V1410" stroke="#9a9a9a" stroke-width="2.8" fill="none"/>
<rect x="1098.8" y="1433" width="70.7" height="39" fill="#808080"/>
<rect x="1187.7" y="1409" width="74.2" height="63" fill="#fff"/>
<path d="M1187.7 1410.4H1261.9" stroke="#585858" stroke-width="2.8" fill="none"/>
<path d="M1189.1 1472V1409" stroke="#0c0c0c" stroke-width="2.8" fill="none"/>
<path d="M1260.5 1472V1409" stroke="#9a9a9a" stroke-width="2.8" fill="none"/>
<rect x="1418" y="1358.5" width="71" height="113.5" fill="#808080"/>
<rect x="1507.8" y="1323" width="73.7" height="149" fill="#fff"/>
<path d="M1507.8 1324.4H1581.5" stroke="#0c0c0c" stroke-width="2.8" fill="none"/>
<path d="M1509.2 1472V1323" stroke="#585858" stroke-width="2.8" fill="none"/>
<path d="M1580.1 1472V1323" stroke="#0c0c0c" stroke-width="2.8" fill="none"/>
<path d="M814 1393V1415" stroke="#7a7a7a" stroke-width="3" fill="none"/>
<path d="M814 1415V1436" stroke="#6c6c6c" stroke-width="3" fill="none"/>
<path d="M809 1394.2H819" stroke="#6a6a6a" stroke-width="2.5" fill="none"/>
<path d="M809 1434.8H819" stroke="#6a6a6a" stroke-width="2.5" fill="none"/>
<path d="M905 1390V1431.8" stroke="#a8a8a8" stroke-width="3" fill="none"/>
<path d="M900 1391.2H910M900 1430.6H910" stroke="#8e8e8e" stroke-width="2.5" fill="none"/>
<path d="M1134 1425.7V1433" stroke="#565656" stroke-width="3" fill="none"/>
<path d="M1134 1433V1440" stroke="#6c6c6c" stroke-width="3" fill="none"/>
<path d="M1129 1426.9H1139" stroke="#4a4a4a" stroke-width="2.5" fill="none"/>
<path d="M1129 1438.8H1139" stroke="#6a6a6a" stroke-width="2.5" fill="none"/>
<path d="M1225 1399V1416" stroke="#a8a8a8" stroke-width="3" fill="none"/>
<path d="M1220 1400.2H1230M1220 1414.8H1230" stroke="#8e8e8e" stroke-width="2.5" fill="none"/>
<path d="M1453.5 1336.8V1358.5" stroke="#a8a8a8" stroke-width="3" fill="none"/>
<path d="M1453.5 1358.5V1379.7" stroke="#6c6c6c" stroke-width="3" fill="none"/>
<path d="M1448.5 1338H1458.5" stroke="#8e8e8e" stroke-width="2.5" fill="none"/>
<path d="M1448.5 1378.5H1458.5" stroke="#6a6a6a" stroke-width="2.5" fill="none"/>
<path d="M1544.5 1299V1347" stroke="#565656" stroke-width="3" fill="none"/>
<path d="M1539.5 1300.2H1549.5M1539.5 1345.8H1549.5" stroke="#4a4a4a" stroke-width="2.5" fill="none"/>
<rect x="727.6" y="1205.5" width="25" height="24.5" fill="#808080"/>
<text transform="translate(764.5 1230.5) scale(0.9615 1)" font-size="41.5" fill="#5c5c5c">3rd assessment</text>
<rect x="1062.2" y="1204.8" width="24.9" height="24.9" fill="#fff" stroke="#686868" stroke-width="2.6"/>
<path d="M1060.9 1204.8H1088.4M1060.9 1229.7H1088.4" stroke="#3c3c3c" stroke-width="2.6" fill="none"/>
<text transform="translate(1098.1 1230.5) scale(0.9677 1)" font-size="41.5" fill="#5c5c5c">4th assessment</text>
<text transform="translate(1479.05 1225.7) scale(0.8544 1)" font-size="50" fill="#5c5c5c">ISOVF</text>
<text transform="translate(792.11 1534.3) scale(0.9371 1)" font-size="35" fill="#5c5c5c">dBP &lt; 65</text>
<text transform="translate(1064.76 1536.3) scale(0.9968 1)" font-size="35" fill="#5c5c5c">65</text>
<text class="sf" transform="translate(1115.96 1532.1) scale(1.4832 1.1441)" font-size="40" fill="#555">≤</text>
<text transform="translate(1159.37 1536.3) scale(0.9347 1)" font-size="35" fill="#5c5c5c">dBP &lt; 90</text>
<text transform="translate(1421.82 1536.3) scale(1.0113 1)" font-size="35" fill="#5c5c5c">90</text>
<text class="sf" transform="translate(1474.39 1532.1) scale(1.3718 1.1441)" font-size="40" fill="#555">≤</text>
<text transform="translate(1515.44 1536.3) scale(0.9106 1)" font-size="35" fill="#5c5c5c">dBP</text>
<text class="sf" transform="translate(601.93 1528.51) scale(1.2171 1.1031)" font-size="40" fill="#4a4a4a">g</text>
</g>
</g>
</svg></body></html>
